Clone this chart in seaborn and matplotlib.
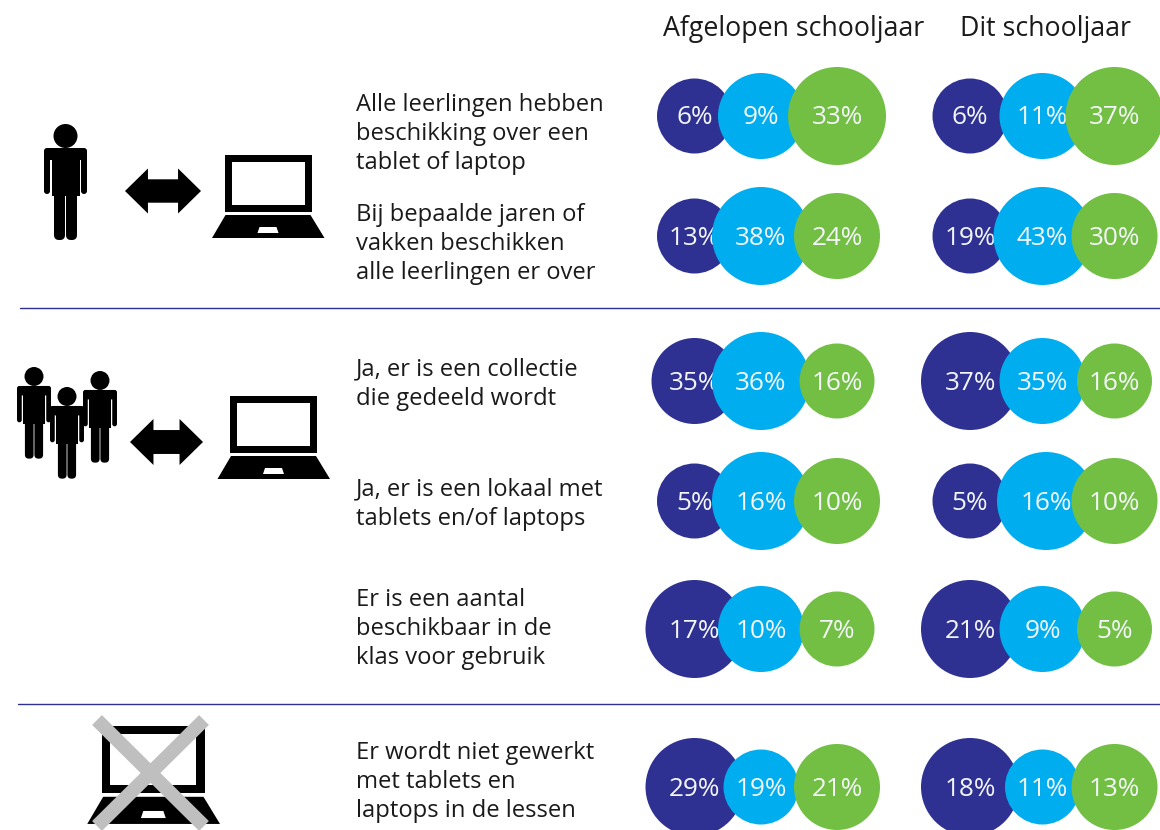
import pandas as pd
import matplotlib
matplotlib.use('Agg')
import matplotlib.pyplot as plt
from matplotlib.patches import Circle, FancyBboxPatch, Polygon, Rectangle
import seaborn as sns

sns.set_theme(style='white')
plt.rcParams['font.family'] = ['Open Sans', 'DejaVu Sans']

# Data
periods = ['Afgelopen schooljaar', 'Dit schooljaar']
series = ['donker', 'blauw', 'groen']
afgelopen_donker = [6, 13, 35, 5, 17, 29]
afgelopen_blauw = [9, 38, 36, 16, 10, 19]
afgelopen_groen = [33, 24, 16, 10, 7, 21]
dit_donker = [6, 19, 37, 5, 21, 18]
dit_blauw = [11, 43, 35, 16, 9, 11]
dit_groen = [37, 30, 16, 10, 5, 13]
row_labels = [
    ['Alle leerlingen hebben', 'beschikking over een', 'tablet of laptop'],
    ['Bij bepaalde jaren of', 'vakken beschikken', 'alle leerlingen er over'],
    ['Ja, er is een collectie', 'die gedeeld wordt'],
    ['Ja, er is een lokaal met', 'tablets en/of laptops'],
    ['Er is een aantal', 'beschikbaar in de', 'klas voor gebruik'],
    ['Er wordt niet gewerkt', 'met tablets en', 'laptops in de lessen'],
]

# Layout in pixels of the figure
row_y = [116, 236, 381, 501, 629, 787]
label_y = [134, 244, 384, 504, 629, 782]
slot_x = {
    ('Afgelopen schooljaar', 'donker'): 694.5, ('Afgelopen schooljaar', 'blauw'): 761, ('Afgelopen schooljaar', 'groen'): 837,
    ('Dit schooljaar', 'donker'): 970, ('Dit schooljaar', 'blauw'): 1042.5, ('Dit schooljaar', 'groen'): 1114.5,
}
# this one bubble sits a little to the right of its column
row_shift = {('Dit schooljaar', 'blauw'): {3: 3.5}}
header_x = {'Afgelopen schooljaar': 794, 'Dit schooljaar': 1045}
colors = {'donker': '#2E3192', 'blauw': '#00AEEF', 'groen': '#72BF44'}
radius_px = {1: 37.5, 2: 43, 3: 49}  # bubble size follows the rank inside a group
sizes = {k: (2 * r * 0.72) ** 2 for k, r in radius_px.items()}

rows = []
values = {
    ('Afgelopen schooljaar', 'donker'): afgelopen_donker, ('Afgelopen schooljaar', 'blauw'): afgelopen_blauw,
    ('Afgelopen schooljaar', 'groen'): afgelopen_groen, ('Dit schooljaar', 'donker'): dit_donker,
    ('Dit schooljaar', 'blauw'): dit_blauw, ('Dit schooljaar', 'groen'): dit_groen,
}
for (period, name), vals in values.items():
    shift = row_shift.get((period, name), {})
    for i, v in enumerate(vals):
        rows.append({'period': period, 'series': name, 'row': i, 'value': v,
                     'x': slot_x[(period, name)] + shift.get(i, 0), 'y': row_y[i]})
df = pd.DataFrame(rows)
df['rank'] = df.groupby(['period', 'row'])['value'].rank(method='first').astype(int)

fig = plt.figure(figsize=(11.6, 8.3), dpi=100)
ax = fig.add_axes([0, 0, 1, 1])

# later series sit on top of the earlier ones, label included
for z, name in enumerate(series):
    part = df[df['series'] == name]
    sns.scatterplot(data=part, x='x', y='y', size='rank', sizes=sizes, color=colors[name],
                    linewidth=0, legend=False, zorder=3 + 2 * z, clip_on=False, ax=ax)
    for _, r in part.iterrows():
        ax.text(r['x'], r['y'] + 2, f"{r['value']}%", color='#F4F6FA', fontsize=18.8,
                ha='center', va='center', zorder=4 + 2 * z)

ax.set_xlim(0, 1160)
ax.set_ylim(830, 0)
ax.axis('off')

for p in periods:
    ax.text(header_x[p], 29, p, fontsize=19.3, color='#1A1A1A', ha='center', va='center')

for lines, y in zip(row_labels, label_y):
    for i, line in enumerate(lines):
        ax.text(355.5, y + 29 * (i - (len(lines) - 1) / 2), line, fontsize=17.15,
                color='#1A1A1A', ha='left', va='center')

ax.plot([20, 1160], [308.5, 308.5], color='#2E3192', lw=1)
ax.plot([18, 1160], [703.5, 703.5], color='#2E3192', lw=1)


def draw_person(cx, top, s):
    # s = 1 is the single figure, 116 px high
    ax.add_patch(Circle((cx, top + 12 * s), 12 * s, fc='black', lw=0, zorder=2))
    ax.add_patch(FancyBboxPatch((cx - 21.5 * s, top + 24 * s), 43 * s, 12 * s, boxstyle=f'round,pad=0,rounding_size={3 * s}',
                                fc='black', lw=0, zorder=2))
    ax.add_patch(Rectangle((cx - 14 * s, top + 26 * s), 28 * s, 46 * s, fc='black', lw=0, zorder=2))
    for dx in (-21.5, 15.5):
        ax.add_patch(FancyBboxPatch((cx + dx * s, top + 26 * s), 6 * s, 44 * s, boxstyle=f'round,pad=0,rounding_size={3 * s}',
                                    fc='black', lw=0, zorder=2))
    for dx in (-11.5, 0.5):
        ax.add_patch(FancyBboxPatch((cx + dx * s, top + 66 * s), 11 * s, 50 * s, boxstyle=f'round,pad=0,rounding_size={5 * s}',
                                    fc='black', lw=0, zorder=2))
    ax.add_patch(Rectangle((cx - 11.5 * s, top + 66 * s), 23 * s, 6 * s, fc='black', lw=0, zorder=2))


def draw_laptop(x0, y0, s):
    # x0, y0 is the top left corner of the screen
    ax.add_patch(Rectangle((x0, y0), 87 * s, 57 * s, fc='black', lw=0, zorder=2))
    ax.add_patch(Rectangle((x0 + 7 * s, y0 + 7 * s), 73 * s, 43 * s, fc='white', lw=0, zorder=2))
    ax.add_patch(Polygon([(x0 + 1 * s, y0 + 60 * s), (x0 + 86 * s, y0 + 60 * s), (x0 + 100 * s, y0 + 83 * s), (x0 - 12.5 * s, y0 + 83 * s)],
                         fc='black', lw=0, zorder=2))
    ax.add_patch(Polygon([(x0 + 35 * s, y0 + 72 * s), (x0 + 52 * s, y0 + 72 * s), (x0 + 54 * s, y0 + 78 * s), (x0 + 33 * s, y0 + 78 * s)],
                         fc='white', lw=0, zorder=2))


def draw_arrow(x0, x1, yc, h):
    head = h * 0.51
    ax.add_patch(Polygon([(x0, yc), (x0 + head, yc - h / 2), (x0 + head, yc - h * 0.26), (x1 - head, yc - h * 0.26), (x1 - head, yc - h / 2),
                          (x1, yc), (x1 - head, yc + h / 2), (x1 - head, yc + h * 0.26), (x0 + head, yc + h * 0.26), (x0 + head, yc + h / 2)],
                         fc='black', lw=0, zorder=2))


draw_person(65.5, 124, 1)
draw_arrow(125, 201, 191, 45)
draw_laptop(224.5, 155, 1)

draw_person(34, 367, 0.79)
draw_person(100, 371, 0.79)
draw_person(67, 387, 0.79)
draw_arrow(130, 203, 442, 46)
draw_laptop(230, 396, 1)

draw_laptop(102, 726, 1.18)
ax.plot([97, 204], [720, 826], color='#BFBFBF', lw=10, solid_capstyle='butt', zorder=2.5)
ax.plot([204, 97], [720, 826], color='#BFBFBF', lw=10, solid_capstyle='butt', zorder=2.5)

fig.savefig('out.png', dpi=100)
